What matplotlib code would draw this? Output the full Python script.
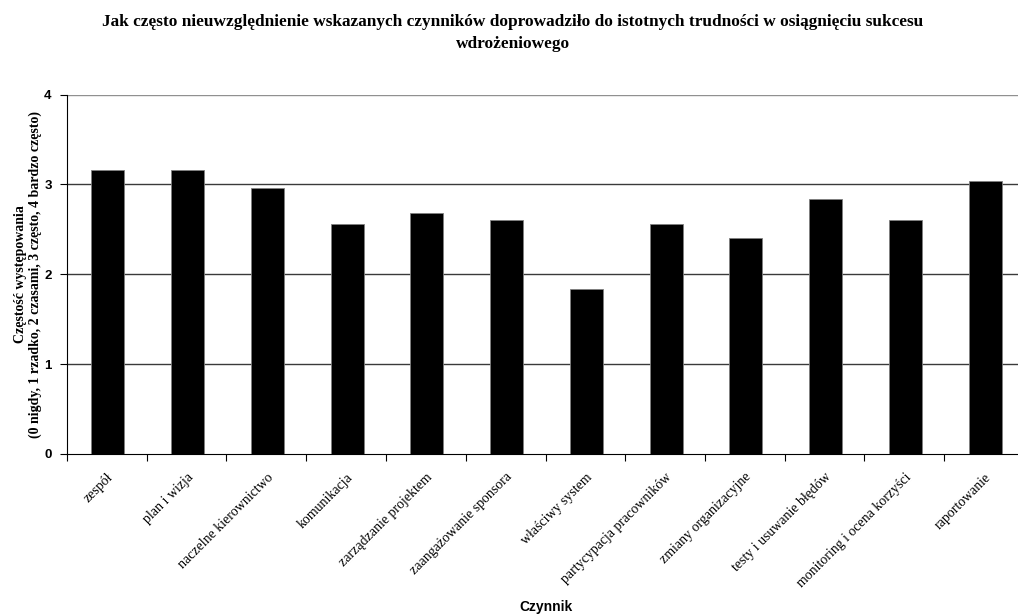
import matplotlib.pyplot as plt
import numpy as np

# values
czynniki = ["zespół", "plan i wizja", "naczelne kierownictwo", "komunikacja",
            "zarządzanie projektem", "zaangażowanie sponsora", "właściwy system",
            "partycypacja pracowników", "zmiany organizacyjne",
            "testy i usuwanie błędów", "monitoring i ocena korzyści", "raportowanie"]
czestosc = [3.16, 3.16, 2.96, 2.56, 2.68, 2.60, 1.84, 2.56, 2.40, 2.84, 2.60, 3.04]
y_ticks = [0, 1, 2, 3, 4]

serif = ["Liberation Serif", "DejaVu Serif"]
sans = ["Liberation Sans", "DejaVu Sans"]

fig = plt.figure(figsize=(10.18, 6.16), dpi=100)
ax = fig.add_axes([67 / 1018, 1 - 454 / 616, 957 / 1018, 359.5 / 616])

x = np.arange(len(czynniki))
ax.bar(x + 0.012, czestosc, width=0.415, color="black", edgecolor="#808080",
       linewidth=0.6, zorder=3)

ax.set_xlim(-0.5, len(czynniki) - 0.5)
ax.set_ylim(0, 4)
ax.set_yticks(y_ticks)
ax.set_yticklabels([str(t) for t in y_ticks], family=sans, fontweight="bold",
                   fontsize=9.5)
for t in y_ticks[1:]:
    ax.axhline(t, color="#3a3a3a" if t < 4 else "#909090", lw=1.0, zorder=1)

ax.set_xticks(x)
ax.set_xticklabels(czynniki, rotation=45, ha="right", va="top",
                   rotation_mode="anchor", family=serif, fontsize=10)
ax.set_xticks(np.arange(len(czynniki) + 1) - 0.5, minor=True)
ax.tick_params(axis="x", which="major", length=0, pad=12)
ax.tick_params(axis="x", which="minor", length=5, width=0.8, direction="out")
ax.tick_params(axis="y", length=5, width=0.8, direction="out", pad=6)

for s in ["top", "right"]:
    ax.spines[s].set_visible(False)
ax.spines["left"].set_linewidth(0.8)
ax.spines["bottom"].set_linewidth(0.8)

fig.text(513 / 1018, 1 - 22 / 616,
         "Jak często nieuwzględnienie wskazanych czynników doprowadziło do istotnych trudności w osiągnięciu sukcesu",
         ha="center", va="center", family=serif, fontweight="bold", fontsize=12.4)
fig.text(513 / 1018, 1 - 44 / 616, "wdrożeniowego",
         ha="center", va="center", family=serif, fontweight="bold", fontsize=12.4)
fig.text(546 / 1018, 1 - 607 / 616, "Czynnik", ha="center", va="center",
         family=sans, fontweight="bold", fontsize=10)
fig.text(28 / 1018, 1 - 274 / 616,
         "Częstość występowania\n(0 nigdy, 1 rzadko, 2 czasami, 3 często, 4 bardzo często)",
         ha="center", va="center", rotation=90, family=serif,
         fontweight="bold", fontsize=10, linespacing=1.2)

fig.savefig("out.png", dpi=100)
